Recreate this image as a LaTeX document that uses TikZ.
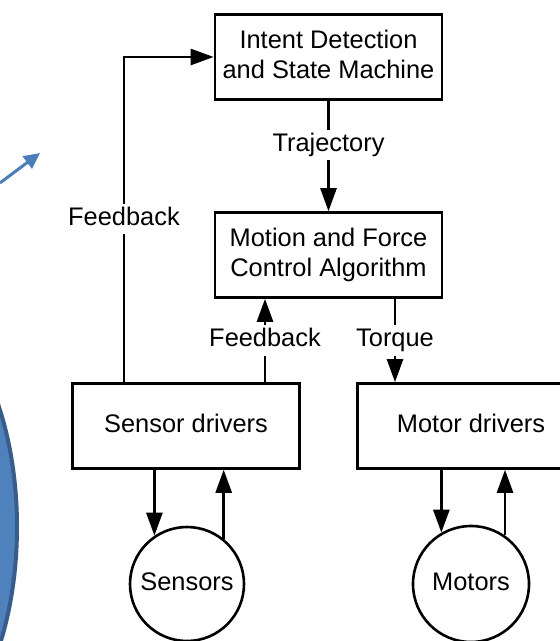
\documentclass[tikz,border=0pt]{standalone}
\usepackage{fontspec}
\setmainfont{Liberation Sans}
\usetikzlibrary{arrows.meta}
\definecolor{bluefill}{HTML}{4F81BD}
\definecolor{blueedge}{HTML}{385D8A}
\definecolor{bluearrow}{HTML}{4A7EBB}
\begin{document}
\begin{tikzpicture}[x=0.5pt,y=-0.5pt,
  every node/.style={font=\fontsize{12.7}{15}\selectfont, text=black},
  blockbox/.style={draw, line width=1.3pt, minimum width=113.5pt, minimum height=42.5pt, align=center, inner sep=0pt, text depth=3pt},
  roundnode/.style={draw, circle, line width=1.3pt, inner sep=0pt, text height=9.3pt, text depth=3pt},
  conn/.style={line width=1.3pt, -{Triangle[length=11.5pt,width=8pt]}},
  lbl/.style={fill=white, inner sep=1.5pt, text height=9.3pt, text depth=3pt}]
\useasboundingbox (0,0) rectangle (560,641);
\clip (0,0) rectangle (560,641);
\fill[white] (0,0) rectangle (560,641);

% left decorations
\draw[draw=blueedge, fill=bluefill, line width=2pt] (-100,527) ellipse [x radius=117, y radius=225];
\coordinate (ba1) at (0,183);
\coordinate (ba2) at (40,153);
\draw[draw=bluearrow, line width=1.5pt, -{Triangle[length=8pt,width=7.5pt]}] (ba1) -- (ba2);

% blocks
\node[blockbox] (top) at (328.5,57) {Intent Detection\\and State Machine};
\node[blockbox] (mid) at (328.5,255) {Motion and Force\\Control Algorithm};
\node[blockbox] (sd) at (186,426) {Sensor drivers};
\node[blockbox] (md) at (471,426) {Motor drivers};
\node[roundnode, minimum size=57pt] (sens) at (187,584) {Sensors};
\node[roundnode, minimum size=58pt] (mot) at (471,584) {Motors};

% helper coordinates
\coordinate (fbl) at (124,300);
\coordinate (fbm) at (265,300);
\coordinate (tq) at (395,300);

% connectors
\draw[conn] (top.south) -- (mid.north) node[lbl, pos=0.4] {Trajectory};
\draw[conn] (sd.north -| fbl) |- (top.west);
\node[lbl] (fblab) at (124,219) {Feedback};
\draw[conn] (sd.north -| fbm) -- (mid.south -| fbm) node[lbl, pos=0.5] {Feedback};
\draw[conn] (mid.south -| tq) -- (md.north -| tq) node[lbl, pos=0.5] {Torque};

\draw[conn] (sd.south -| sens.124) -- (sens.124);
\draw[conn] (sens.51) -- (sd.south -| sens.51);
\draw[conn] (md.south -| mot.120) -- (mot.120);
\draw[conn] (mot.55) -- (md.south -| mot.55);
\end{tikzpicture}
\end{document}
